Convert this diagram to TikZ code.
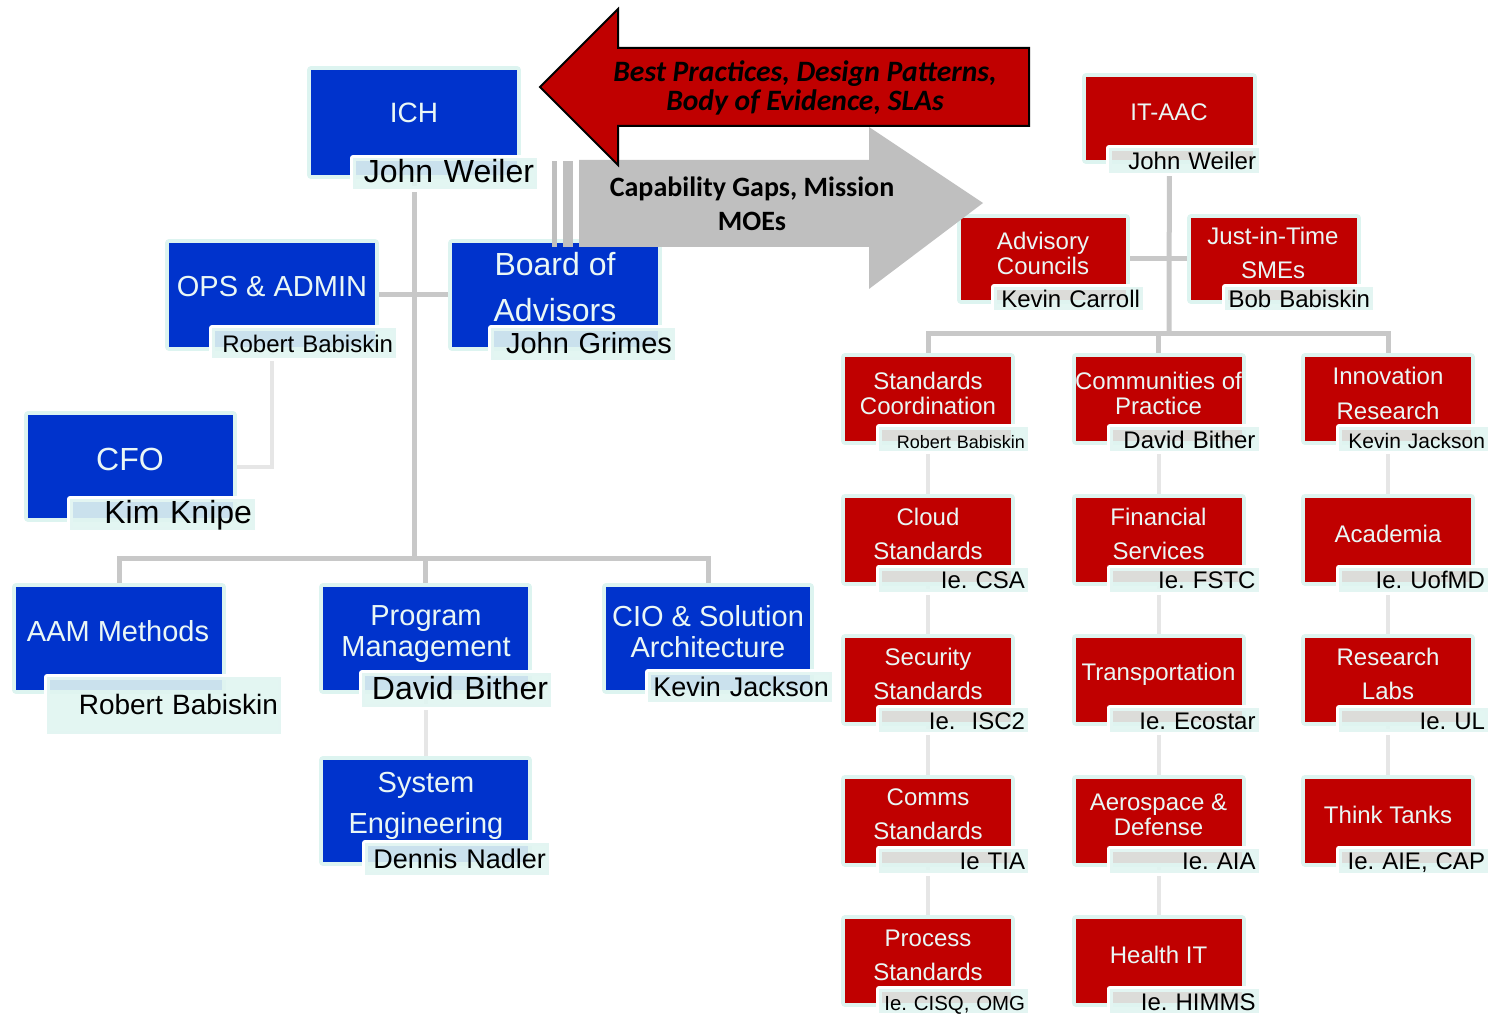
\documentclass[tikz,border=0pt]{standalone}
\usepackage{fontspec}
\setmainfont{Liberation Sans}
\newfontfamily\calibri{Carlito}
\usetikzlibrary{backgrounds}
\definecolor{orgblue}{HTML}{0033CC}
\definecolor{orgred}{HTML}{C00000}
\definecolor{paleedge}{HTML}{DDF4F0}
\definecolor{namefill}{HTML}{E0F5F1}
\definecolor{titlewhite}{HTML}{EAF7F5}
\definecolor{linkgray}{HTML}{C8C8C8}
\definecolor{linklight}{HTML}{E6E6E6}
\definecolor{arrowgray}{HTML}{BFBFBF}
\tikzset{
    bluebox/.style={rectangle, inner sep=0pt, fill=orgblue, preaction={draw=paleedge, line width=4pt, line join=round}},
    redbox/.style={bluebox, fill=orgred, minimum width=83pt, minimum height=42pt},
    title/.style={text=titlewhite, align=center, inner sep=0pt},
    redtitle/.style={title, font=\fontsize{12}{17}\selectfont},
    namebox/.style={rectangle, fill=namefill, fill opacity=0.9, text opacity=1, text=black,
        preaction={draw=white, line width=3pt, line join=round},
        inner xsep=1.5pt, inner ysep=0pt, align=right, text height=0.9em, text depth=0pt},
    rowname/.style={namebox, text width=71.5pt, minimum height=12pt, font=\fontsize{12}{14}\selectfont},
    link/.style={draw=linkgray, line width=2.5pt},
    sublink/.style={draw=linklight, line width=2pt}
}

\begin{document}
\frenchspacing
\begin{tikzpicture}[x=0.5pt, y=-0.5pt]
    \useasboundingbox (0,0) rectangle (1499,1016);

    % left side
    \node[bluebox, minimum width=103pt, minimum height=52.5pt] (ich) at (414,122.5) {};
    \node[title, font=\fontsize{14}{16}\selectfont] (ichtitle) at (414,113) {ICH};
    \node[namebox, text width=89pt, minimum height=15.5pt, font=\fontsize{16}{18}\selectfont] (ichname) at (445,173.5) {John Weiler};

    \node[bluebox, minimum width=103pt, minimum height=52pt] (ops) at (272,295) {};
    \node[title, font=\fontsize{14.5}{16}\selectfont] (opstitle) at (272,287) {OPS \& ADMIN};
    \node[namebox, text width=89pt, minimum height=15pt, font=\fontsize{12}{14}\selectfont] (opsname) at (304,343) {Robert Babiskin};

    \node[bluebox, minimum width=103pt, minimum height=52pt] (board) at (555,295) {};
    \node[title, font=\fontsize{16}{23}\selectfont] (boardtitle) at (555,287) {Board of\\Advisors};
    \node[namebox, text width=89pt, minimum height=16pt, font=\fontsize{14.5}{16}\selectfont] (boardname) at (583,344) {John Grimes};

    \node[bluebox, minimum width=102.5pt, minimum height=51.5pt] (cfo) at (130.5,466.5) {};
    \node[title, font=\fontsize{16}{18}\selectfont] (cfotitle) at (130,459) {CFO};
    \node[namebox, text width=89.5pt, minimum height=15.5pt, font=\fontsize{16}{18}\selectfont] (cfoname) at (162.5,514.5) {Kim Knipe};

    \node[bluebox, minimum width=103pt, minimum height=51.5pt] (aam) at (119,638.5) {};
    \node[title, font=\fontsize{14.5}{16}\selectfont] (aamtitle) at (118,631) {AAM Methods};
    \node[namebox, text width=114pt, minimum height=28.5pt, font=\fontsize{14}{16}\selectfont] (aamname) at (164,705.5) {Robert Babiskin};

    \node[bluebox, minimum width=102.5pt, minimum height=51.5pt] (prog) at (425.5,638.5) {};
    \node[title, font=\fontsize{14.5}{15.5}\selectfont] (progtitle) at (426,634.5) {Program\\Management};
    \node[namebox, text width=91.5pt, minimum height=17pt, font=\fontsize{16}{18}\selectfont] (progname) at (456.5,690) {David Bither};

    \node[bluebox, minimum width=102pt, minimum height=51.5pt] (cio) at (708,638.5) {};
    \node[title, font=\fontsize{14.5}{15.5}\selectfont] (ciotitle) at (708,632) {CIO \& Solution\\Architecture};
    \node[namebox, text width=89pt, minimum height=15pt, font=\fontsize{13.5}{15}\selectfont] (cioname) at (740,687) {Kevin Jackson};

    \node[bluebox, minimum width=102.5pt, minimum height=51pt] (syseng) at (425.5,811) {};
    \node[title, font=\fontsize{14.5}{20.5}\selectfont] (systitle) at (426,805.5) {System\\Engineering};
    \node[namebox, text width=89pt, minimum height=16pt, font=\fontsize{13.5}{15}\selectfont] (sysname) at (457,859) {Dennis Nadler};

    % right side
    \node[redbox, minimum width=83.5pt, minimum height=41.5pt] (itaac) at (1169.5,118.5) {};
    \node[redtitle] (itaactitle) at (1169,112) {IT-AAC};
    \node[rowname, text width=72pt, minimum height=12.5pt] (itaacname) at (1184,160.5) {John Weiler};

    \node[redbox, minimum width=82.5pt, minimum height=41pt] (advis) at (1043.5,259) {};
    \node[redtitle, font=\fontsize{12}{12.5}\selectfont] (advistitle) at (1043,253.5) {Advisory\\Councils};
    \node[rowname, minimum height=11.5pt] (advisname) at (1068.5,298.5) {Kevin Carroll};

    \node[redbox, minimum height=41pt] (jit) at (1274,259) {};
    \node[redtitle] (jittitle) at (1273,253) {Just-in-Time\\SMEs};
    \node[rowname, text width=71pt, minimum height=11.5pt] (jitname) at (1299,298.5) {Bob Babiskin};

    \node[redbox] (stdcoord) at (928,399) {};
    \node[redtitle, font=\fontsize{12}{12.5}\selectfont] (stdcoordtitle) at (928,393) {Standards\\Coordination};
    \node[rowname, font=\fontsize{9}{11}\selectfont] (stdcoordname) at (953.5,439) {Robert Babiskin};

    \node[redbox] (cloud) at (928,539.5) {};
    \node[redtitle] (cloudtitle) at (928,533.5) {Cloud\\Standards};
    \node[rowname] (cloudname) at (953.5,579.5) {Ie. CSA};

    \node[redbox] (security) at (928,680) {};
    \node[redtitle] (securitytitle) at (928,674) {Security\\Standards};
    \node[rowname] (securityname) at (953.5,720) {Ie.\ \ ISC2};

    \node[redbox] (comms) at (928,820.5) {};
    \node[redtitle] (commstitle) at (928,814.5) {Comms\\Standards};
    \node[rowname] (commsname) at (953.5,860.5) {Ie TIA};

    \node[redbox] (process) at (928,961) {};
    \node[redtitle] (processtitle) at (928,955) {Process\\Standards};
    \node[rowname, font=\fontsize{10.2}{12}\selectfont] (processname) at (953.5,1001) {\mbox{Ie. CISQ, OMG}};

    \node[redbox] (cop) at (1158.5,399) {};
    \node[redtitle, font=\fontsize{12}{12.5}\selectfont] (coptitle) at (1158.5,393) {Communities of\\Practice};
    \node[rowname] (copname) at (1184,439) {David Bither};

    \node[redbox] (fin) at (1158.5,539.5) {};
    \node[redtitle] (fintitle) at (1158.5,533.5) {Financial\\Services};
    \node[rowname] (finname) at (1184,579.5) {Ie. FSTC};

    \node[redbox] (transp) at (1158.5,680) {};
    \node[redtitle] (transptitle) at (1158.5,674) {Transportation};
    \node[rowname] (transpname) at (1184,720) {Ie. Ecostar};

    \node[redbox] (aero) at (1158.5,820.5) {};
    \node[redtitle, font=\fontsize{12}{12.5}\selectfont] (aerotitle) at (1158.5,814.5) {Aerospace \&\\Defense};
    \node[rowname] (aeroname) at (1184,860.5) {Ie. AIA};

    \node[redbox] (health) at (1158.5,961) {};
    \node[redtitle] (healthtitle) at (1158.5,955) {Health IT};
    \node[rowname] (healthname) at (1184,1001) {Ie. HIMMS};

    \node[redbox] (innov) at (1388,399) {};
    \node[redtitle, font=\fontsize{12}{17.5}\selectfont] (innovtitle) at (1388,393.5) {Innovation\\Research};
    \node[rowname, font=\fontsize{10.5}{12}\selectfont] (innovname) at (1413.5,439) {Kevin Jackson};

    \node[redbox] (acad) at (1388,539.5) {};
    \node[redtitle] (acadtitle) at (1388,533.5) {Academia};
    \node[rowname] (acadname) at (1413.5,579.5) {Ie. UofMD};

    \node[redbox] (labs) at (1388,680) {};
    \node[redtitle] (labstitle) at (1388,674) {Research\\Labs};
    \node[rowname] (labsname) at (1413.5,720) {Ie. UL};

    \node[redbox] (think) at (1388,820.5) {};
    \node[redtitle] (thinktitle) at (1388,814.5) {Think Tanks};
    \node[rowname] (thinkname) at (1413.5,860.5) {Ie. AIE, CAP};

    % connectors
    \begin{scope}[on background layer]
        \coordinate (lbus) at (414,558);
        \coordinate (rbus) at (1169,333);
        \draw[link] (ich) -- (lbus);
        \draw[link] (ops) -- (board);
        \draw[link] (aam) |- (lbus) -| (cio);
        \draw[link] (prog) -- (prog |- lbus);
        \draw[sublink] (ops) |- (cfo);
        \draw[sublink] (prog) -- (syseng);
        \draw[link] (itaac) -- (rbus);
        \draw[link] (advis) -- (jit);
        \draw[link] (stdcoord) |- (rbus) -| (innov);
        \draw[link] (cop) -- (cop |- rbus);
        \draw[sublink] (stdcoord) -- (process);
        \draw[sublink] (cop) -- (health);
        \draw[sublink] (innov) -- (think);
    \end{scope}

    % arrows
    \fill[arrowgray] (552,161) rectangle (557,247);
    \fill[arrowgray] (563,161) rectangle (573,247);
    \fill[arrowgray] (579,160) -- (869,160) -- (869,127) -- (983,203) -- (869,289) -- (869,247) -- (579,247) -- cycle;
    \node[align=center, inner sep=0pt, font=\calibri\bfseries\fontsize{14}{17}\selectfont] (gapstext) at (752,204) {Capability Gaps, Mission\\MOEs};
    \filldraw[fill=orgred, draw=black, line width=1pt] (540,87) -- (618,9) -- (618,48) -- (1029,48) -- (1029,126) -- (618,126) -- (618,165) -- cycle;
    \node[align=center, inner sep=0pt, font=\calibri\bfseries\itshape\fontsize{14.8}{14.5}\selectfont] (practext) at (805,88) {Best Practices, Design Patterns,\\Body of Evidence, SLAs};
\end{tikzpicture}
\end{document}
